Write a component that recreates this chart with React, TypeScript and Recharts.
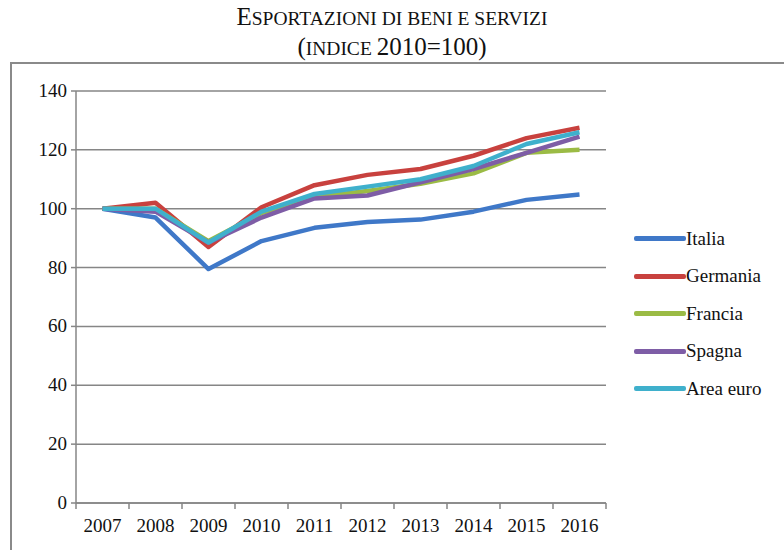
import { LineChart, Line, XAxis, YAxis, CartesianGrid } from "recharts";

const years = ["2007", "2008", "2009", "2010", "2011", "2012", "2013", "2014", "2015", "2016"];
const italia = [100, 97, 79.5, 89, 93.5, 95.5, 96.3, 99, 103, 104.8];
const germania = [100, 102, 87, 100.5, 108, 111.5, 113.5, 118, 124, 127.5];
const francia = [100, 100, 89, 98.5, 104, 106, 108.5, 112, 119, 120];
const spagna = [100, 99, 88.5, 97, 103.5, 104.5, 109, 113.5, 119, 124.5];
const areaEuro = [100, 100, 88.5, 99, 105, 107.5, 110, 114.5, 122, 126];
const yTicks = [0, 20, 40, 60, 80, 100, 120, 140];

const series = [
  { key: "italia", name: "Italia", color: "#3f78c8" },
  { key: "germania", name: "Germania", color: "#c8413e" },
  { key: "francia", name: "Francia", color: "#9bbb45" },
  { key: "spagna", name: "Spagna", color: "#7e5da6" },
  { key: "areaEuro", name: "Area euro", color: "#3fb0cc" },
];

const data = years.map((year, i) => ({
  year,
  italia: italia[i],
  germania: germania[i],
  francia: francia[i],
  spagna: spagna[i],
  areaEuro: areaEuro[i],
}));

const FONT = "'Liberation Serif', 'Times New Roman', serif";
const BAND = 53;

const XTick = (props: any) => {
  const { x, y, payload, index } = props;
  return (
    <g>
      <line x1={x - BAND / 2} y1={y - 8} x2={x - BAND / 2} y2={y - 2} stroke="#868686" strokeWidth={1.5} />
      {index === years.length - 1 && (
        <line x1={x + BAND / 2} y1={y - 8} x2={x + BAND / 2} y2={y - 2} stroke="#868686" strokeWidth={1.5} />
      )}
      <text x={x} y={y + 21} textAnchor="middle" fontFamily={FONT} fontSize={19} fill="#111">
        {payload.value}
      </text>
    </g>
  );
};

const YTick = (props: any) => {
  const { x, y, payload } = props;
  return (
    <text x={x - 2} y={y + 6} textAnchor="end" fontFamily={FONT} fontSize={19} fill="#111">
      {payload.value}
    </text>
  );
};

const big = { fontSize: 25 };
const small = { fontSize: 19.5 };

export default function App() {
  return (
    <div style={{ position: "absolute", left: 0, top: 0, width: 784, height: 550, background: "#fff", overflow: "hidden" }}>
      <div style={{ position: "absolute", left: 0, top: 3, width: 784, textAlign: "center", fontFamily: FONT, color: "#111", lineHeight: "27px" }}>
        <div>
          <span style={big}>E</span>
          <span style={small}>SPORTAZIONI DI BENI E SERVIZI</span>
        </div>
        <div>
          <span style={big}>(</span>
          <span style={small}>INDICE </span>
          <span style={big}>2010=100)</span>
        </div>
      </div>
      <div style={{ position: "absolute", left: 10, top: 62, width: 790, height: 520, border: "2px solid #8a8a8a", boxSizing: "border-box" }} />
      <div style={{ position: "absolute", left: 0, top: 0 }}>
        <LineChart width={784} height={550} data={data} margin={{ top: 91, right: 178, left: 16, bottom: 17 }}>
          <CartesianGrid vertical={false} stroke="#868686" strokeWidth={1.5} />
          <XAxis
            dataKey="year"
            stroke="#868686"
            strokeWidth={1.5}
            tickLine={false}
            tick={<XTick />}
            height={30}
            interval={0}
            padding={{ left: BAND / 2, right: BAND / 2 }}
          />
          <YAxis
            domain={[0, 140]}
            ticks={yTicks}
            stroke="#868686"
            strokeWidth={1.5}
            tickSize={5}
            width={60}
            tick={<YTick />}
          />
          {series.map((s) => (
            <Line
              key={s.key}
              type="linear"
              dataKey={s.key}
              name={s.name}
              stroke={s.color}
              strokeWidth={4.5}
              strokeLinejoin="round"
              dot={false}
              isAnimationActive={false}
            />
          ))}
        </LineChart>
      </div>
      <div style={{ position: "absolute", left: 634, top: 220, fontFamily: FONT, fontSize: 19, color: "#111" }}>
        {series.map((s) => (
          <div key={s.key} style={{ display: "flex", alignItems: "center", height: 37.5 }}>
            <div style={{ width: 52, height: 5, background: s.color, borderRadius: 2 }} />
            <span>{s.name}</span>
          </div>
        ))}
      </div>
    </div>
  );
}
